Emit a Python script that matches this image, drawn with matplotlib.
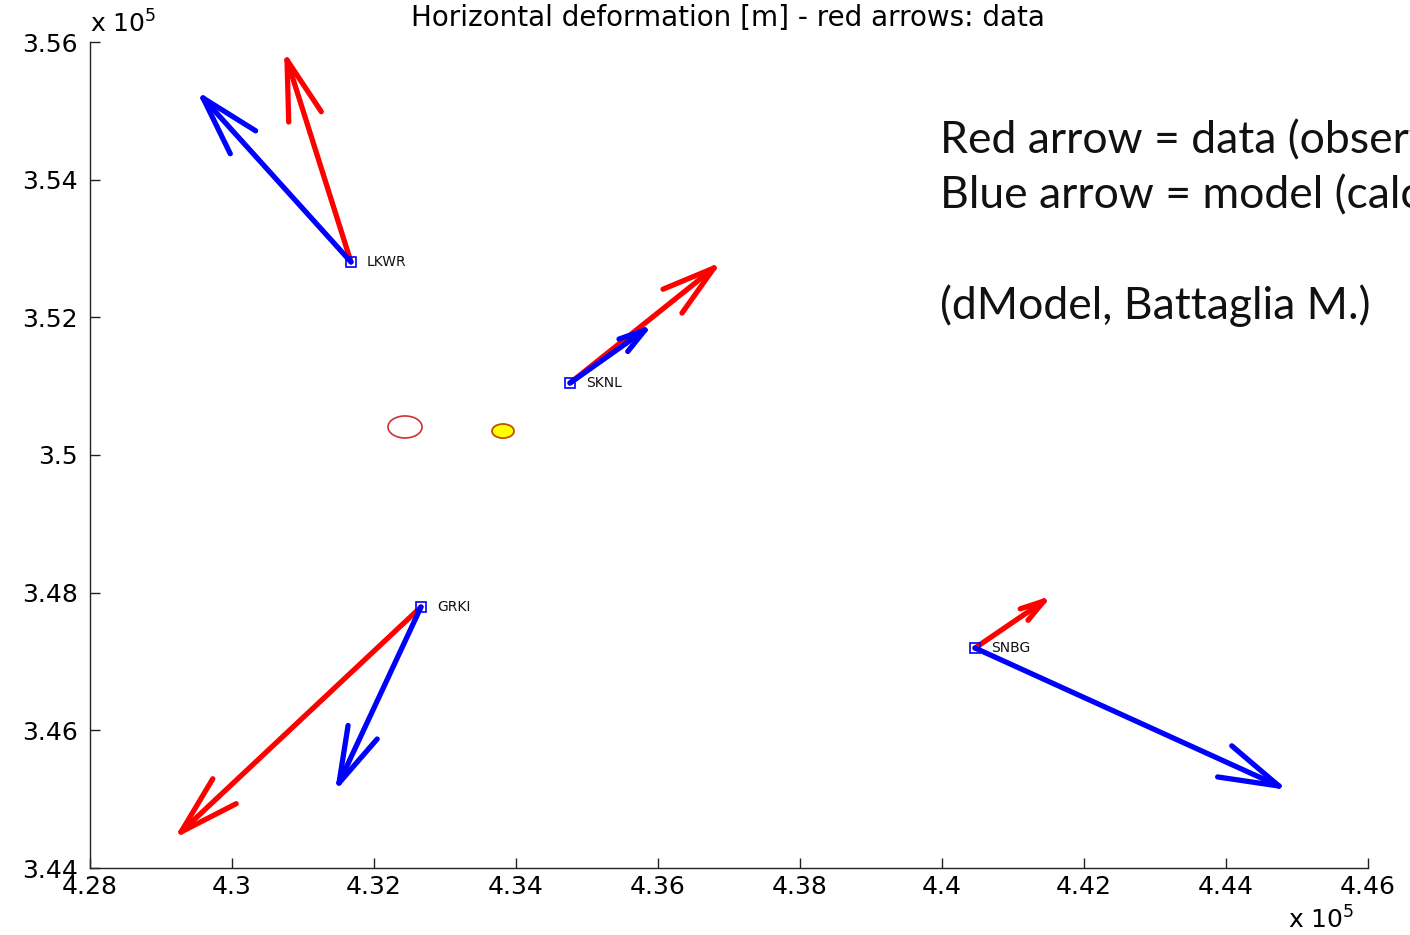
import matplotlib
matplotlib.use('Agg')
import matplotlib.pyplot as plt
import numpy as np
from matplotlib.patches import Ellipse
from matplotlib.ticker import FixedLocator, FuncFormatter

# GPS stations (local grid, metres)
names = ['LKWR', 'SKNL', 'GRKI', 'SNBG']
sta_x = np.array([431676, 434761, 432662, 440465])
sta_y = np.array([352804, 351046, 347792, 347196])

# observed horizontal displacement (scaled to map units)
obs_dx = np.array([-901, 2028, -3380, 972])
obs_dy = np.array([2934, 1671, -3269, 683])

# model horizontal displacement (scaled to map units)
mod_dx = np.array([-2084, 1056, -1155, 4281])
mod_dy = np.array([2382, 770, -2557, -2005])

# source locations
src_x = [432437, 433817]
src_y = [350407, 350348]

xticks = np.arange(428000, 446001, 2000)
yticks = np.arange(344000, 356001, 2000)

fig = plt.figure(figsize=(14.1, 9.35), dpi=100)
ax = fig.add_axes([90/1410, 67/935, 1278/1410, 826/935])
ax.set_xlim(428000, 446000)
ax.set_ylim(344000, 356000)

for s in ['top', 'right']:
    ax.spines[s].set_visible(False)
for s in ['left', 'bottom']:
    ax.spines[s].set_color('#222222')
    ax.spines[s].set_linewidth(1.0)

ax.xaxis.set_major_locator(FixedLocator(xticks))
ax.yaxis.set_major_locator(FixedLocator(yticks))
fmt = FuncFormatter(lambda v, p: '%g' % (v / 1e5))
ax.xaxis.set_major_formatter(fmt)
ax.yaxis.set_major_formatter(fmt)
ax.tick_params(direction='in', length=7, width=1, color='#222222',
               labelsize=18, pad=5)
ax.tick_params(axis='y', pad=8.5)
for lab in ax.get_xticklabels() + ax.get_yticklabels():
    lab.set_family('DejaVu Sans')

fig.canvas.draw()
to_px = ax.transData.transform
to_data = ax.transData.inverted().transform


def arrow(x0, y0, dx, dy, color):
    p0 = to_px((x0, y0))
    p1 = to_px((x0 + dx, y0 + dy))
    v = p0 - p1
    L = np.hypot(*v)
    u = v / L
    h = min(0.3 * L, 62)
    a = np.radians(16)
    segs = [[p0, p1]]
    for sgn in (1, -1):
        rot = np.array([[np.cos(sgn*a), -np.sin(sgn*a)],
                        [np.sin(sgn*a), np.cos(sgn*a)]])
        segs.append([p1, p1 + h * rot.dot(u)])
    for seg in segs:
        d = to_data(np.array(seg))
        ax.plot(d[:, 0], d[:, 1], color=color, lw=3.8,
                solid_capstyle='round', zorder=3)


for i in range(len(names)):
    arrow(sta_x[i], sta_y[i], obs_dx[i], obs_dy[i], '#ff0000')
for i in range(len(names)):
    arrow(sta_x[i], sta_y[i], mod_dx[i], mod_dy[i], '#0000ff')

ax.plot(sta_x, sta_y, 's', ms=7, mfc='none', mec='#0000ff', mew=1.2, zorder=4)
for i, n in enumerate(names):
    ax.annotate(n, (sta_x[i], sta_y[i]), xytext=(16, 0), textcoords='offset pixels',
                va='center', ha='left', fontsize=10, family='DejaVu Sans',
                color='#111111')

ax.add_patch(Ellipse((src_x[0], src_y[0]), 480, 320, fc='none', ec='#d03030', lw=1.2, zorder=2))
ax.add_patch(Ellipse((src_x[1], src_y[1]), 310, 205, fc='#ffff00', ec='#c05000', lw=1.3, zorder=2))

fig.text(728/1410, 1 - 18/935, 'Horizontal deformation [m] - red arrows: data',
         ha='center', va='center', fontsize=20, family='DejaVu Sans')
fig.text(90/1410, 1 - 24/935, r'x 10$^5$', ha='left', va='center', fontsize=18,
         family='DejaVu Sans')
fig.text(1288/1410, 1 - 920/935, r'x 10$^5$', ha='left', va='center', fontsize=18,
         family='DejaVu Sans')

notes = ['Red arrow = data (observed)', 'Blue arrow = model (calculated)', '',
         '(dModel, Battaglia M.)']
for k, line in enumerate(notes):
    fig.text(940/1410, 1 - (141 + 55*k)/935, line, ha='left', va='center',
             fontsize=32, family='Lato', color='#111111')

fig.savefig('out.png', dpi=100)
